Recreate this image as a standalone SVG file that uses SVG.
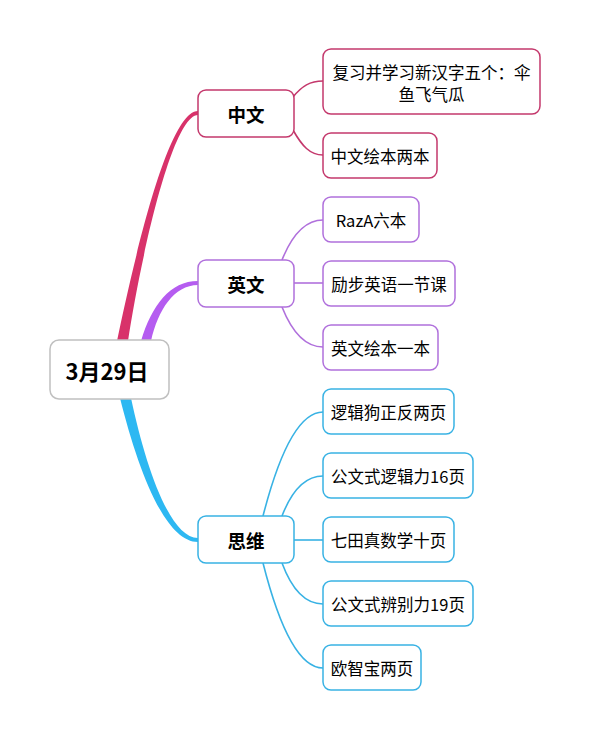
<svg xmlns="http://www.w3.org/2000/svg" width="589" height="739" viewBox="0 0 589 739">
<style>
text{font-family:"Noto Sans CJK SC","Noto Sans",sans-serif;fill:#000;text-anchor:middle;dominant-baseline:central}
.leaf{font-size:16.5px}
.main{font-size:18.5px;font-weight:bold}
.root{font-size:22px;font-weight:bold}
rect{fill:#fff;stroke-width:1.5}
.zh rect{stroke:#c4386c}
.en rect{stroke:#b070dc}
.th rect{stroke:#38b2e4}
.ln{fill:none;stroke-width:1.6}
</style>
<rect width="589" height="739" fill="#fff" stroke="none"/>
<g id="connectors">
<path d="M117,341 C134,260 168,111 198,111 L198,115 C172,115 140,262 128,341 Z" fill="#d8326a"/>
<path d="M141,341 C152,305 170,281 198,281 L198,285 C174,285 158,310 151,341 Z" fill="#b55cf0"/>
<path d="M120,398 C138,470 165,542 198,542 L198,538 C170,538 146,468 131,398 Z" fill="#2db8f2"/>
<g class="ln" stroke="#c4386c">
<path d="M293,97 C302,86 310,81 323,81"/>
<path d="M293,130 C302,146 310,155 323,155"/>
</g>
<g class="ln" stroke="#b070dc">
<path d="M282,260 C292,235 305,220 323,220"/>
<path d="M294,283 L323,283"/>
<path d="M282,307 C292,332 305,347 323,347"/>
</g>
<g class="ln" stroke="#38b2e4">
<path d="M263,516 C280,450 300,412 323,412"/>
<path d="M282,516 C292,490 305,476 323,476"/>
<path d="M294,540 L323,540"/>
<path d="M282,563 C292,590 305,604 323,604"/>
<path d="M263,563 C280,630 300,668 323,668"/>
</g>
</g>
<g id="root"><rect x="50" y="340" width="119" height="59" rx="9" stroke="#c0c0c0"/><text class="root" x="107" y="370">3月29日</text></g>
<g id="zh" class="zh"><rect x="198" y="90" width="96" height="47" rx="8"/><text class="main" x="246" y="113.5">中文</text></g>
<g id="en" class="en"><rect x="198" y="260" width="96" height="47" rx="8"/><text class="main" x="246" y="283.5">英文</text></g>
<g id="th" class="th"><rect x="198" y="516" width="96" height="47" rx="8"/><text class="main" x="246" y="539.5">思维</text></g>
<g id="zh1" class="zh"><rect x="323" y="49" width="217" height="65" rx="8"/><text class="leaf" x="431.5" y="72">复习并学习新汉字五个：伞</text><text class="leaf" x="431.5" y="94">鱼飞气瓜</text></g>
<g id="zh2" class="zh"><rect x="323" y="133" width="114" height="45" rx="8"/><text class="leaf" x="380" y="155.5">中文绘本两本</text></g>
<g id="en1" class="en"><rect x="323" y="197" width="96" height="45" rx="8"/><text class="leaf" x="371" y="219.5">RazA六本</text></g>
<g id="en2" class="en"><rect x="323" y="261" width="132" height="45" rx="8"/><text class="leaf" x="389" y="283.5">励步英语一节课</text></g>
<g id="en3" class="en"><rect x="323" y="325" width="115" height="45" rx="8"/><text class="leaf" x="380.5" y="347.5">英文绘本一本</text></g>
<g id="th1" class="th"><rect x="323" y="389" width="131" height="45" rx="8"/><text class="leaf" x="388.5" y="411.5">逻辑狗正反两页</text></g>
<g id="th2" class="th"><rect x="323" y="453" width="150" height="45" rx="8"/><text class="leaf" x="398" y="475.5">公文式逻辑力16页</text></g>
<g id="th3" class="th"><rect x="323" y="517" width="131" height="45" rx="8"/><text class="leaf" x="388.5" y="539.5">七田真数学十页</text></g>
<g id="th4" class="th"><rect x="323" y="581" width="150" height="45" rx="8"/><text class="leaf" x="398" y="603.5">公文式辨别力19页</text></g>
<g id="th5" class="th"><rect x="323" y="645" width="98" height="45" rx="8"/><text class="leaf" x="372" y="667.5">欧智宝两页</text></g>
</svg>
